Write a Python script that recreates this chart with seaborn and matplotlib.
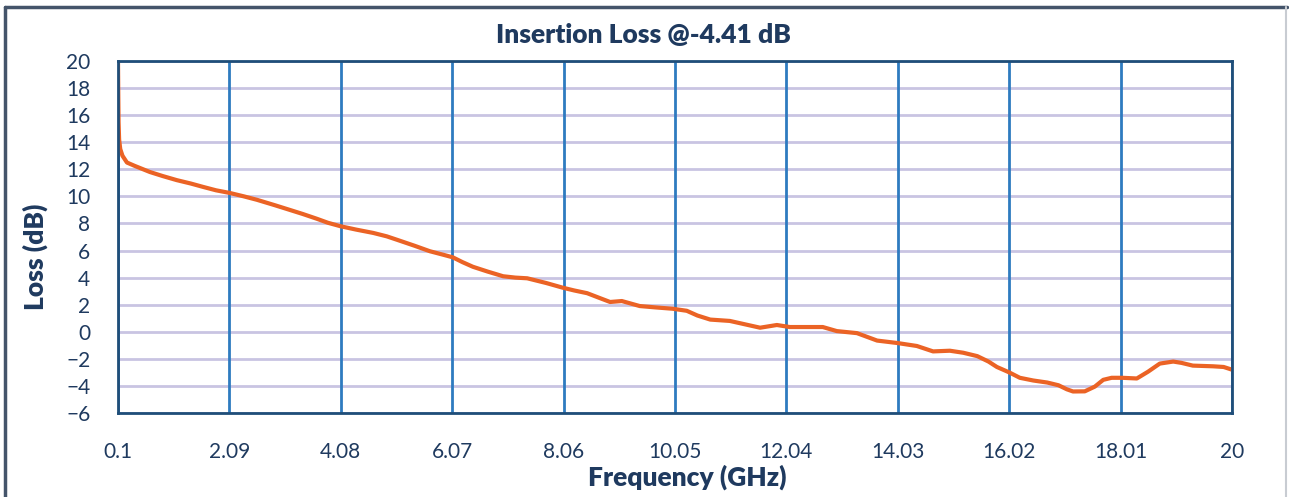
import matplotlib
matplotlib.use("Agg")
import matplotlib.pyplot as plt
import seaborn as sns
import pandas as pd
from matplotlib.lines import Line2D

# data
freq_ghz = [0.10, 0.105, 0.11, 0.12, 0.14, 0.18, 0.26, 0.40, 0.67, 0.90, 1.15, 1.40,
            1.62, 1.85, 2.10, 2.35, 2.58, 2.90, 3.17, 3.40, 3.65, 3.85, 4.07, 4.35,
            4.66, 4.90, 5.08, 5.40, 5.67, 5.90, 6.08, 6.25, 6.44, 6.70, 6.98, 7.20,
            7.41, 7.75, 8.05, 8.25, 8.48, 8.70, 8.89, 9.10, 9.42, 9.70, 10.01, 10.26,
            10.45, 10.68, 11.03, 11.30, 11.57, 11.87, 12.10, 12.40, 12.69, 12.94,
            13.30, 13.66, 14.02, 14.37, 14.66, 14.96, 15.20, 15.45, 15.65, 15.80,
            16.02, 16.21, 16.45, 16.70, 16.90, 17.05, 17.16, 17.37, 17.55, 17.70,
            17.85, 18.04, 18.30, 18.50, 18.71, 18.95, 19.10, 19.30, 19.66, 19.85, 20.0]
loss_db = [20.0, 17.5, 15.5, 14.2, 13.5, 13.0, 12.5, 12.25, 11.8, 11.5, 11.2, 10.95,
           10.7, 10.45, 10.25, 10.0, 9.75, 9.35, 9.0, 8.7, 8.35, 8.05, 7.8, 7.55,
           7.3, 7.05, 6.8, 6.35, 5.95, 5.7, 5.5, 5.15, 4.8, 4.45, 4.1, 4.0,
           3.95, 3.6, 3.25, 3.05, 2.85, 2.5, 2.2, 2.27, 1.9, 1.8, 1.7, 1.55,
           1.2, 0.9, 0.8, 0.55, 0.3, 0.5, 0.35, 0.35, 0.35, 0.05,
           -0.1, -0.65, -0.83, -1.05, -1.45, -1.4, -1.55, -1.8, -2.2, -2.6,
           -3.0, -3.4, -3.6, -3.75, -3.95, -4.25, -4.41, -4.4, -4.05, -3.55,
           -3.4, -3.4, -3.45, -2.95, -2.35, -2.2, -2.3, -2.5, -2.55, -2.6, -2.8]
x_ticks = [0.1, 2.09, 4.08, 6.07, 8.06, 10.05, 12.04, 14.03, 16.02, 18.01, 20]
x_tick_labels = ["0.1", "2.09", "4.08", "6.07", "8.06", "10.05", "12.04", "14.03",
                 "16.02", "18.01", "20"]
y_ticks = [-6, -4, -2, 0, 2, 4, 6, 8, 10, 12, 14, 16, 18, 20]

text_col = "#1F3A5F"
line_col = "#EB6325"

sns.set_style("white")
plt.rcParams["font.family"] = ["Lato", "DejaVu Sans"]

fig = plt.figure(figsize=(12.89, 4.97), dpi=100)
ax = fig.add_axes([118 / 1289, 1 - 413 / 497, (1232 - 118) / 1289, (413 - 61) / 497])

df = pd.DataFrame({"freq": freq_ghz, "loss": loss_db})
sns.lineplot(data=df, x="freq", y="loss", sort=False, color=line_col, linewidth=3,
             ax=ax, zorder=3)

ax.set_xlim(0.1, 20)
ax.set_ylim(-6, 20)
ax.set_xticks(x_ticks)
ax.set_xticklabels(x_tick_labels)
ax.set_yticks(y_ticks)
ax.tick_params(axis="both", length=0, labelsize=15, labelcolor=text_col)
ax.tick_params(axis="x", pad=21)
ax.tick_params(axis="y", pad=20)

# gridlines: lavender horizontals, blue verticals
ax.grid(False)
for yv in y_ticks:
    ax.axhline(yv, color="#C9C4E2", linewidth=2, zorder=1)
for xv in x_ticks:
    ax.axvline(xv, color="#2E7BC0", linewidth=2, zorder=2)
for sp in ax.spines.values():
    sp.set_color("#1F4E79")
    sp.set_linewidth(2)
    sp.set_zorder(4)

ax.set_xlabel("")
ax.set_ylabel("")
fig.text(0.499, 1 - 35 / 497, "Insertion Loss @-4.41 dB", ha="center", va="center",
         fontsize=19, fontweight="heavy", color=text_col)
fig.text(687 / 1289, 1 - 477 / 497, "Frequency (GHz)", ha="center", va="center",
         fontsize=19, fontweight="heavy", color=text_col)
fig.text(35 / 1289, 1 - 257 / 497, "Loss (dB)", ha="center", va="center", rotation=90,
         fontsize=19, fontweight="heavy", color=text_col)

# chart frame
fig.add_artist(Line2D([5 / 1289, 5 / 1289], [0, 1 - 7 / 497], transform=fig.transFigure,
                      color="#44546A", linewidth=2.5))
fig.add_artist(Line2D([5 / 1289, 1287 / 1289], [1 - 7 / 497, 1 - 7 / 497],
                      transform=fig.transFigure, color="#44546A", linewidth=2.5))
fig.add_artist(Line2D([1286 / 1289, 1286 / 1289], [0, 1 - 7 / 497],
                      transform=fig.transFigure, color="#C8CCD2", linewidth=1.5))

fig.savefig("out.png", dpi=100)
